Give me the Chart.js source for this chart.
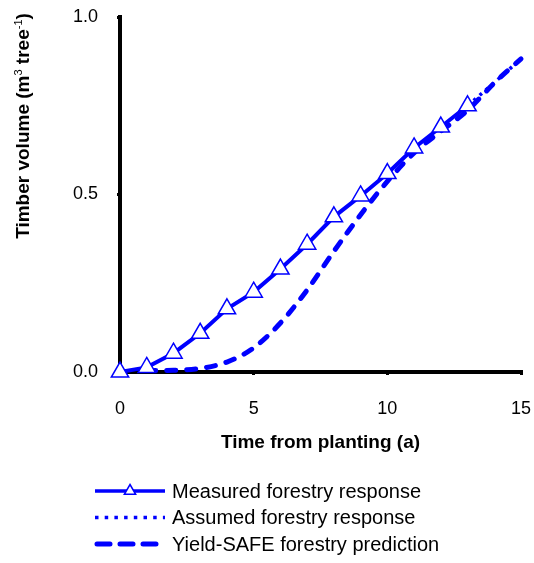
<!DOCTYPE html>
<html><head><meta charset="utf-8">
<script src="https://cdn.jsdelivr.net/npm/chart.js@4/dist/chart.umd.min.js"></script>
<style>html,body{margin:0;padding:0;background:#fff}#wrap{width:534px;height:563px;position:relative}</style>
</head><body><div id="wrap"><canvas id="c" width="534" height="563"></canvas></div>
<script>
const FONT = '"Liberation Sans", Arial, sans-serif';
const measuredYears = [0,1,2,3,4,5,6,7,8,9,10,11,12,13];
const measured = [0.0,0.013,0.053,0.109,0.178,0.225,0.29,0.36,0.437,0.496,0.559,0.631,0.69,0.75];
const assumedYears = [13,14,15];
const assumed = [0.75,0.815,0.882];
const yieldYears = [1,2,3,4,5,6,7,8,9,10,11,12,13,14,15];
const yieldSafe = [0.004,0.005,0.01,0.028,0.068,0.138,0.231,0.34,0.443,0.537,0.617,0.678,0.737,0.814,0.882];
const xTicks = [0,5,10,15];
const yTicks = [0,0.5,1.0];
const seriesLabels = ['Measured forestry response','Assumed forestry response','Yield-SAFE forestry prediction'];
const yTitleParts = [['Timber volume (m',0],['3',1],[' tree',0],['-1',1],[')',0]];
const xTitle = 'Time from planting (a)';
const BLUE = '#0000FF';

const pts = (xs, ys) => xs.map((x,i)=>({x:x,y:ys[i]}));

const yTitlePlugin = {
  id:'yTitle',
  afterDraw(chart){
    const ctx = chart.ctx;
    ctx.save();
    const main = 'bold 19px ' + FONT, sup = '11px ' + FONT;
    let total = 0;
    yTitleParts.forEach(([t,s])=>{ctx.font = s?sup:main; total += ctx.measureText(t).width;});
    ctx.translate(29, 126);
    ctx.rotate(-Math.PI/2);
    ctx.fillStyle = '#000';
    ctx.textBaseline = 'alphabetic';
    ctx.textAlign = 'left';
    let x = -total/2;
    yTitleParts.forEach(([t,s])=>{
      ctx.font = s?sup:main;
      ctx.fillText(t, x, s ? -7 : 0);
      x += ctx.measureText(t).width;
    });
    ctx.restore();
  }
};

const legendPlugin = {
  id:'customLegend',
  afterDraw(chart){
    const ctx = chart.ctx;
    const ds = chart.data.datasets;
    const x0 = 95, x1 = 165, tx = 172, y0 = 491, dy = 26.5;
    ds.forEach((d,i)=>{
      const y = y0 + i*dy;
      ctx.save();
      ctx.strokeStyle = d.borderColor;
      ctx.lineWidth = i===2 ? 5 : 3.5;
      ctx.lineCap = i===2 ? 'round' : 'butt';
      ctx.setLineDash(i===0 ? [] : (i===1 ? [3.5,6.2] : [13,10]));
      ctx.beginPath(); ctx.moveTo(x0+(i===2?2:0), y); ctx.lineTo(x1-(i===2?2:0), y); ctx.stroke();
      ctx.setLineDash([]);
      if (i===0){
        const r = 6.5, cx = (x0+x1)/2;
        ctx.fillStyle = '#fff'; ctx.lineWidth = 1.5;
        ctx.beginPath();
        ctx.moveTo(cx, y - r);
        ctx.lineTo(cx + r*0.87, y + r*0.5);
        ctx.lineTo(cx - r*0.87, y + r*0.5);
        ctx.closePath(); ctx.fill(); ctx.stroke();
      }
      ctx.fillStyle = '#000';
      ctx.font = '20px ' + FONT;
      ctx.textBaseline = 'middle';
      ctx.textAlign = 'left';
      ctx.fillText(d.label, tx, y + 1);
      ctx.restore();
    });
  }
};

new Chart(document.getElementById('c'), {
  type:'line',
  data:{
    datasets:[
      {label:seriesLabels[0], data:pts(measuredYears, measured), borderColor:BLUE, borderWidth:4,
       pointStyle:'triangle', pointRadius:10, pointBackgroundColor:'#fff', pointBorderColor:BLUE, pointBorderWidth:1.5,
       tension:0, clip:false, order:0},
      {label:seriesLabels[1], data:pts(assumedYears, assumed), borderColor:BLUE, borderWidth:3.5,
       borderDash:[3,5], pointRadius:0, tension:0, clip:false, order:2},
      {label:seriesLabels[2], data:pts(yieldYears, yieldSafe), borderColor:BLUE, borderWidth:5,
       borderDash:[9,11], borderCapStyle:'round', pointRadius:0, cubicInterpolationMode:'monotone', clip:false, order:1}
    ]
  },
  options:{
    responsive:false, animation:false, devicePixelRatio:1,
    layout:{padding:{top:17, right:13, bottom:91, left:0}},
    plugins:{legend:{display:false}, tooltip:{enabled:false}},
    scales:{
      x:{type:'linear', min:0, max:15,
        afterBuildTicks(s){ s.ticks = xTicks.map(v=>({value:v})); },
        afterFit(s){ s.height = 100; s.paddingLeft = 0; s.paddingRight = 0; },
        border:{display:true, color:'#000', width:4},
        grid:{drawOnChartArea:false, drawTicks:true, tickLength:3, color:'#000', lineWidth:3},
        ticks:{color:'#000', font:{family:FONT, size:18}, padding:23, maxRotation:0, callback:v=>String(v)},
        title:{display:true, text:xTitle, color:'#000', font:{family:FONT, size:19, weight:'bold'}, padding:{top:8, bottom:18}}
      },
      y:{type:'linear', min:0, max:1,
        afterBuildTicks(s){ s.ticks = yTicks.map(v=>({value:v})); },
        afterFit(s){ s.width = 120; s.paddingTop = 0; s.paddingBottom = 0; },
        border:{display:true, color:'#000', width:4},
        grid:{drawOnChartArea:false, drawTicks:true, tickLength:3, color:'#000', lineWidth:3},
        ticks:{color:'#000', font:{family:FONT, size:18}, padding:19, callback:v=>Number(v).toFixed(1)},
        title:{display:false}
      }
    }
  },
  plugins:[yTitlePlugin, legendPlugin]
});
</script></body></html>
